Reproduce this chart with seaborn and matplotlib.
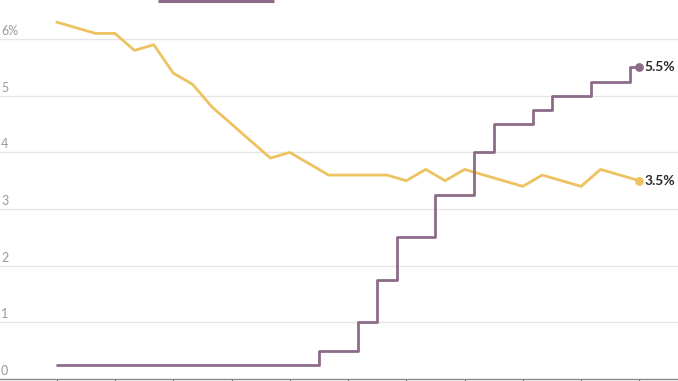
import numpy as np
import pandas as pd
import seaborn as sns
import matplotlib
matplotlib.use("Agg")
import matplotlib.pyplot as plt
from matplotlib.lines import Line2D
from matplotlib.transforms import blended_transform_factory

# Monthly data, Jan 2021 .. Jul 2023
months = pd.date_range("2021-01-01", "2023-07-01", freq="MS").strftime("%Y-%m").tolist()
unemployment = [6.3, 6.2, 6.1, 6.1, 5.8, 5.9, 5.4, 5.2, 4.8, 4.5, 4.2, 3.9,
                4.0, 3.8, 3.6, 3.6, 3.6, 3.6, 3.5, 3.7, 3.5, 3.7, 3.6, 3.5,
                3.4, 3.6, 3.5, 3.4, 3.7, 3.6, 3.5]
fed_funds = [0.25, 0.25, 0.25, 0.25, 0.25, 0.25, 0.25, 0.25, 0.25, 0.25, 0.25, 0.25,
             0.25, 0.25, 0.5, 0.5, 1.0, 1.75, 2.5, 2.5, 3.25, 3.25, 4.0, 4.5,
             4.5, 4.75, 5.0, 5.0, 5.25, 5.25, 5.5]
y_ticks = [0, 1, 2, 3, 4, 5, 6]
y_tick_labels = ["0", "1", "2", "3", "4", "5", "6%"]
end_labels = ["5.5%", "3.5%"]

YELLOW = "#EDC261"
PURPLE = "#8C6B89"

df = pd.DataFrame({"idx": np.arange(len(months)), "month": months,
                   "unemployment": unemployment, "fed": fed_funds})

sns.set_theme(style="white")
plt.rcParams["font.family"] = ["Lato", "DejaVu Sans"]

fig = plt.figure(figsize=(6.78, 3.81), dpi=100)
ax = fig.add_axes([0, 2 / 381, 1, 1 - 2 / 381])

sns.lineplot(data=df, x="idx", y="unemployment", ax=ax, color=YELLOW, lw=2.0,
             zorder=3)
sns.lineplot(data=df, x="idx", y="fed", ax=ax, color=PURPLE, lw=2.0,
             drawstyle="steps-mid", zorder=4)

last = df.iloc[-1]
ax.scatter([last["idx"]], [last["fed"]], s=40, color=PURPLE, zorder=5, lw=0)
ax.scatter([last["idx"]], [last["unemployment"]], s=40, color=YELLOW, zorder=5, lw=0)
ax.annotate(end_labels[0], xy=(last["idx"], last["fed"]), xytext=(5, 0),
            textcoords="offset pixels", va="center", ha="left",
            fontsize=10, fontweight="bold", color="#2b2b2b")
ax.annotate(end_labels[1], xy=(last["idx"], last["unemployment"]), xytext=(5, 0),
            textcoords="offset pixels", va="center", ha="left",
            fontsize=10, fontweight="bold", color="#2b2b2b")

ax.set_xlim(-2.92, 31.99)
ax.set_ylim(0, 6.69)

# gridlines
for v in y_ticks[1:]:
    ax.axhline(v, color="#E6E6E6", lw=1.0, zorder=1)

ax.set_yticks([])
trans = blended_transform_factory(ax.transAxes, ax.transData)
for v, lab in zip(y_ticks, y_tick_labels):
    ax.annotate(lab, xy=(0, v), xycoords=trans, xytext=(1, 2),
                textcoords="offset pixels", ha="left", va="bottom",
                fontsize=9, color="#999999")

ax.set_xticks(df["idx"][::3])
ax.set_xticklabels([""] * len(df["idx"][::3]))
ax.tick_params(axis="x", direction="out", length=2.5, width=0.8, color="#666666",
               bottom=True)
ax.set_xlabel("")
ax.set_ylabel("")
for s in ["top", "right", "left"]:
    ax.spines[s].set_visible(False)
ax.spines["bottom"].set_color("#888888")
ax.spines["bottom"].set_linewidth(1.0)

# partial legend swatch at the very top
fig.add_artist(Line2D([158 / 678, 274 / 678], [1 - 1 / 381, 1 - 1 / 381],
                      transform=fig.transFigure, color=PURPLE, lw=2.2,
                      solid_capstyle="butt"))

fig.savefig("out.png", dpi=100)
